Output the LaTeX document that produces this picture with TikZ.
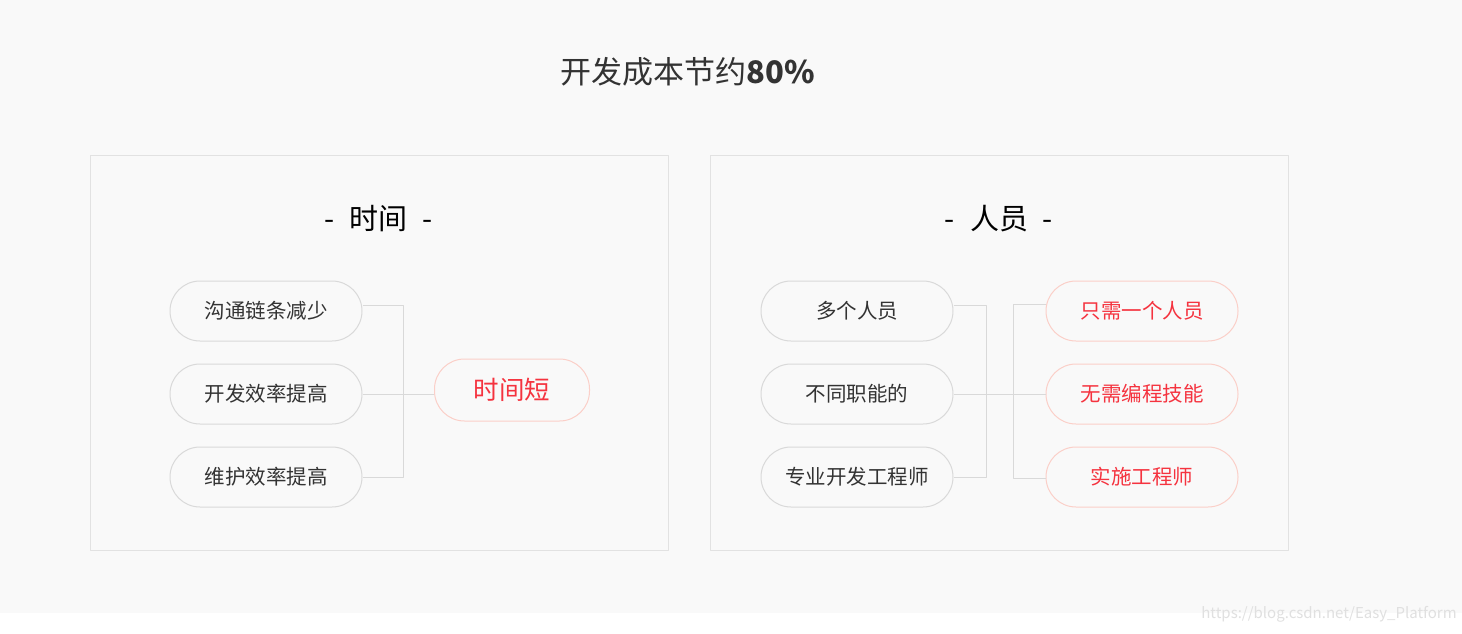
\documentclass[tikz,border=0pt]{standalone}
\usepackage{fontspec}
\setmainfont{Noto Sans CJK SC}
\definecolor{bgray}{HTML}{F9F9F9}
\definecolor{frame}{HTML}{E2E2E2}
\definecolor{pillline}{HTML}{D9D9D9}
\definecolor{pinkline}{HTML}{FBCFC8}
\definecolor{redtxt}{HTML}{F5333F}
\definecolor{graytxt}{HTML}{333333}
\tikzset{
  panel/.style={draw=frame, line width=1pt, fill=bgray},
  pill/.style={draw=pillline, line width=1pt, fill=bgray, rounded corners=30pt,
    minimum width=192pt, minimum height=60pt, inner sep=0pt, text=graytxt,
    font=\fontsize{20.5}{20.5}\selectfont},
  redpill/.style={pill, draw=pinkline, text=redtxt},
  link/.style={draw=pillline, line width=1pt},
  heading/.style={font=\fontsize{29}{29}\selectfont, text=black}
}
\begin{document}
\begin{tikzpicture}[x=1pt, y=-1pt, line join=round]
\def\yA{311} \def\yB{394} \def\yC{477}
\fill[white] (0,0) rectangle (1462,633);
\fill[bgray] (0,0) rectangle (1462,613);
\useasboundingbox (0,0) rectangle (1462,633);
\node (title) at (688,72) [font=\fontsize{31}{31}\selectfont, text=black!80]{开发成本节约\textbf{80\%}};
% panels
\draw[panel] (90,155) rectangle (668,550);
\draw[panel] (710,155) rectangle (1288,550);
\node[heading] (time) at (379,219) {-\hspace{15pt}时间\hspace{15pt}-};
\node[heading] (staff) at (999,219) {-\hspace{15pt}人员\hspace{15pt}-};
% time
\node[pill] (t1) at (266,\yA) {沟通链条减少};
\node[pill] (t2) at (266,\yB) {开发效率提高};
\node[pill] (t3) at (266,\yC) {维护效率提高};
\node[redpill, minimum width=155pt, minimum height=62pt, font=\fontsize{25.5}{25.5}\selectfont] (short) at (512,390) {时间短};
\coordinate (jt) at (403,0);
\draw[link] ([yshift=6pt]t1.east) -- ([yshift=6pt]t1.east -| jt) -- (t3.east -| jt) -- (t3.east);
\draw[link] (t2.east) -- (short.west |- t2.east);
% staff
\node[pill] (p1) at (857,\yA) {多个人员};
\node[pill] (p2) at (857,\yB) {不同职能的};
\node[pill] (p3) at (857,\yC) {专业开发工程师};
\node[redpill] (r1) at (1142,\yA) {只需一个人员};
\node[redpill] (r2) at (1142,\yB) {无需编程技能};
\node[redpill] (r3) at (1142,\yC) {实施工程师};
\coordinate (jl) at (986,0);
\coordinate (jr) at (1013,0);
\draw[link] ([yshift=6pt]p1.east) -- ([yshift=6pt]p1.east -| jl) -- (p3.east -| jl) -- (p3.east);
\draw[link] ([yshift=7pt]r1.west) -- ([yshift=7pt]r1.west -| jr) -- ([yshift=-1pt]r3.west -| jr) -- ([yshift=-1pt]r3.west);
\draw[link] (p2.east) -- (r2.west);
\node (mark) at (1329,614) [font=\fontsize{15}{15}\selectfont, text=black!12]{https://blog.csdn.net/Easy\_Platform};
\end{tikzpicture}
\end{document}
